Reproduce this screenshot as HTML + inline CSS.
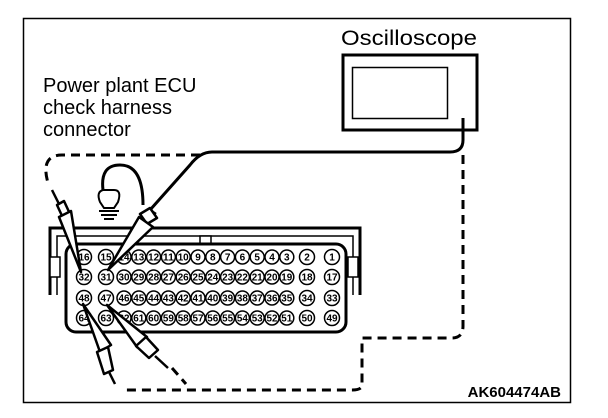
<!DOCTYPE html>
<html><head><meta charset="utf-8"><style>
html,body{margin:0;padding:0;background:#fff;}
svg{display:block;}
text{font-family:"Liberation Sans",sans-serif;}
</style></head><body>
<svg width="608" height="418" viewBox="0 0 608 418" xmlns="http://www.w3.org/2000/svg">
<rect x="23.5" y="18.5" width="547" height="384" fill="none" stroke="#000" stroke-width="1.5"/>
<text x="43" y="92" font-size="20">Power plant ECU</text>
<text x="43" y="114" font-size="20">check harness</text>
<text x="43" y="136" font-size="20">connector</text>
<text x="341" y="45" font-size="21" textLength="136" lengthAdjust="spacingAndGlyphs">Oscilloscope</text>
<text x="561" y="397" font-size="15" font-weight="bold" text-anchor="end">AK604474AB</text>
<!-- oscilloscope -->
<rect x="343" y="55" width="134" height="75" fill="none" stroke="#000" stroke-width="3"/>
<rect x="352.5" y="67.5" width="95" height="51" fill="none" stroke="#000" stroke-width="1.5"/>
<!-- dashed loop -->
<path d="M463 155 V326 Q463 338 452 338 H362 V385 Q362 390 352 390 H125" fill="none" stroke="#000" stroke-width="3" stroke-dasharray="9,6"/>
<path d="M200 155 H62 Q40 155 48 183" fill="none" stroke="#000" stroke-width="3" stroke-dasharray="9,6"/>
<path d="M172 368 L186 384" fill="none" stroke="#000" stroke-width="3" stroke-dasharray="9,6"/>
<!-- solid scope wire -->
<path d="M463 118 V140 Q463 152 450 152 H212 Q200 152 190 165 L150 210" fill="none" stroke="#000" stroke-width="3"/>
<!-- connector housing -->
<path d="M50 295 V228 H360 V295" fill="none" stroke="#000" stroke-width="3"/>
<path d="M57 295 V236 H353 V295" fill="none" stroke="#000" stroke-width="1.5"/>
<rect x="200" y="236" width="11" height="8" fill="#fff" stroke="#000" stroke-width="1.5"/>
<rect x="50" y="257" width="10" height="20" fill="#fff" stroke="#000" stroke-width="1.5"/>
<rect x="348" y="257" width="10" height="20" fill="#fff" stroke="#000" stroke-width="1.5"/>
<rect x="66" y="244" width="280" height="88" rx="10" fill="#fff" stroke="#000" stroke-width="3"/>
<g font-size="9" font-weight="bold" text-anchor="middle" stroke="#000" stroke-width="1.5" fill="#fff">
<g id="pins"></g>
</g>
<!-- lamp -->
<path d="M103 190 Q100 165 120 165 Q143 165 143 205" fill="none" stroke="#000" stroke-width="3"/>
<path d="M103 190 Q96 192 100 202 L104 208 H114 L118 202 Q122 190 114 190 Z" fill="#fff" stroke="#000" stroke-width="2"/>
<path d="M99 211 H119 M101 215 H117 M104 219 H114" stroke="#000" stroke-width="2"/>
<!-- probes -->
<g fill="#fff" stroke="#000" stroke-width="2.5" stroke-linejoin="round">
<path d="M52 190 L60 206"/>
<path d="M57 205 L64 201 L70 214 L63 218 Z"/>
<path d="M59 217 L71 211 L81 272 Z"/>
<path d="M150 210 L156 214"/>
<path d="M140 214 L150 208 L157 218 L147 224 Z"/>
<path d="M139 217 L153 227 L108 270 Z"/>
<path d="M83 304 L100 352 L111 345 Z"/>
<path d="M97 352 L108 347 L113 370 L104 374 Z"/>
<path d="M109 372 L115 384"/>
<path d="M107 305 L137 347 L147 337 Z"/>
<path d="M136 346 L146 337 L158 350 L149 358 Z"/>
<path d="M155 356 L168 368"/>
</g>
<script>
(function(){
var g=document.getElementById('pins');var ns='http://www.w3.org/2000/svg';
var ys=[257,277,298,318];var starts=[16,32,48,64];
for(var r=0;r<4;r++){
 var s=starts[r];
 var xs=[84,106];for(var i=0;i<12;i++)xs.push(124+i*14.8);xs.push(307,332);
 for(var c=0;c<16;c++){
  var n=s-c;
  var ci=document.createElementNS(ns,'circle');ci.setAttribute('cx',xs[c]);ci.setAttribute('cy',ys[r]);ci.setAttribute('r',c>=2&&c<14?7:7.5);
  g.appendChild(ci);
  var t=document.createElementNS(ns,'text');t.setAttribute('x',xs[c]);t.setAttribute('y',ys[r]+3.5);t.setAttribute('fill','#000');t.setAttribute('stroke','none');t.setAttribute('font-size','10');
  if(c>=2&&c<14&&n>=10){t.setAttribute('textLength','11');t.setAttribute('lengthAdjust','spacingAndGlyphs');}
  t.textContent=n;g.appendChild(t);
 }
}
})();
</script>
</svg>
</body></html>
